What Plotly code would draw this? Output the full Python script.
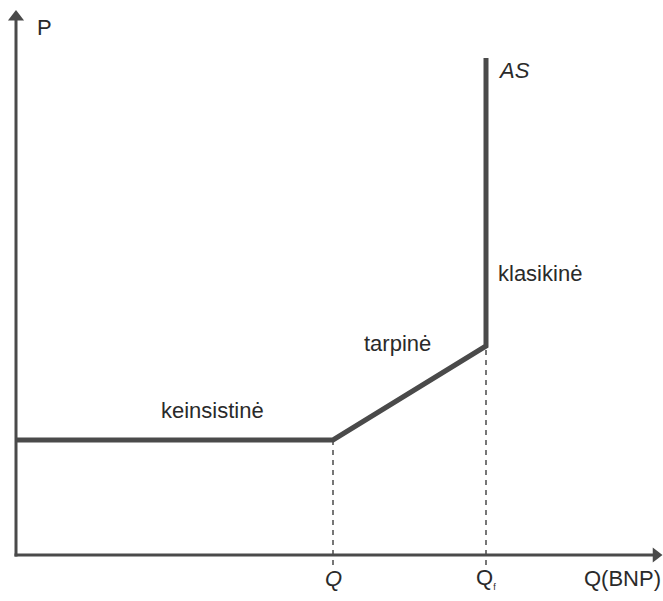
import plotly.graph_objects as go

# AS curve (arbitrary units)
as_q = [0.0, 3.17, 4.70, 4.70]
as_p = [1.15, 1.15, 2.09, 4.97]
q_levels = [3.17, 4.70]
q_labels = ["<i>Q</i>", "Q<sub><span style='font-size:9px'>f</span></sub>"]
p_levels = [1.15, 2.09]
x_axis_end = 6.40
y_axis_end = 5.38

col = "#4a4a4a"
font = dict(family="Liberation Sans, Arial, sans-serif", size=22, color="#2a2a2a")

fig = go.Figure()
# axes
fig.add_trace(go.Scatter(x=[-0.015, x_axis_end], y=[0, 0], mode="lines",
                         line=dict(color=col, width=3), hoverinfo="skip"))
fig.add_trace(go.Scatter(x=[0, 0], y=[-0.015, y_axis_end], mode="lines",
                         line=dict(color=col, width=3), hoverinfo="skip"))
fig.add_trace(go.Scatter(x=[x_axis_end], y=[0], mode="markers", cliponaxis=False,
                         marker=dict(symbol="triangle-right", size=13, color=col,
                                     line=dict(width=0)), hoverinfo="skip"))
fig.add_trace(go.Scatter(x=[0], y=[y_axis_end], mode="markers", cliponaxis=False,
                         marker=dict(symbol="triangle-up", size=14, color=col,
                                     line=dict(width=0)), hoverinfo="skip"))

for q, p in zip(q_levels, p_levels):
    fig.add_trace(go.Scatter(x=[q, q], y=[-0.1, p], mode="lines",
                             line=dict(color=col, width=1.5, dash="5px,5px"),
                             hoverinfo="skip"))
fig.add_trace(go.Scatter(x=as_q, y=as_p, mode="lines",
                         line=dict(color=col, width=5), hoverinfo="skip"))

texts = [
    (0.19, 5.28, "P", "left"),
    (4.80, 4.85, "<i>AS</i>", "left"),
    (4.80, 2.82, "klasikinė", "left"),
    (3.81, 2.12, "tarpinė", "center"),
    (1.96, 1.45, "keinsistinė", "center"),
    (q_levels[0], -0.23, q_labels[0], "center"),
    (q_levels[1], -0.23, q_labels[1], "center"),
    (6.06, -0.23, "Q(BNP)", "center"),
]
for x, y, t, xa in texts:
    fig.add_annotation(x=x, y=y, text=t, showarrow=False, xanchor=xa, yanchor="middle", font=font)

fig.update_layout(
    width=663, height=601, margin=dict(l=0, r=0, t=0, b=0, pad=0, autoexpand=False),
    paper_bgcolor="white", plot_bgcolor="white", showlegend=False,
    xaxis=dict(range=[-0.16, 6.47], visible=False),
    yaxis=dict(range=[-0.46, 5.55], visible=False),
)
fig.write_html("out.html", config={"displayModeBar": False},
               post_script="document.body.style.margin='0';document.body.style.overflow='hidden';")
